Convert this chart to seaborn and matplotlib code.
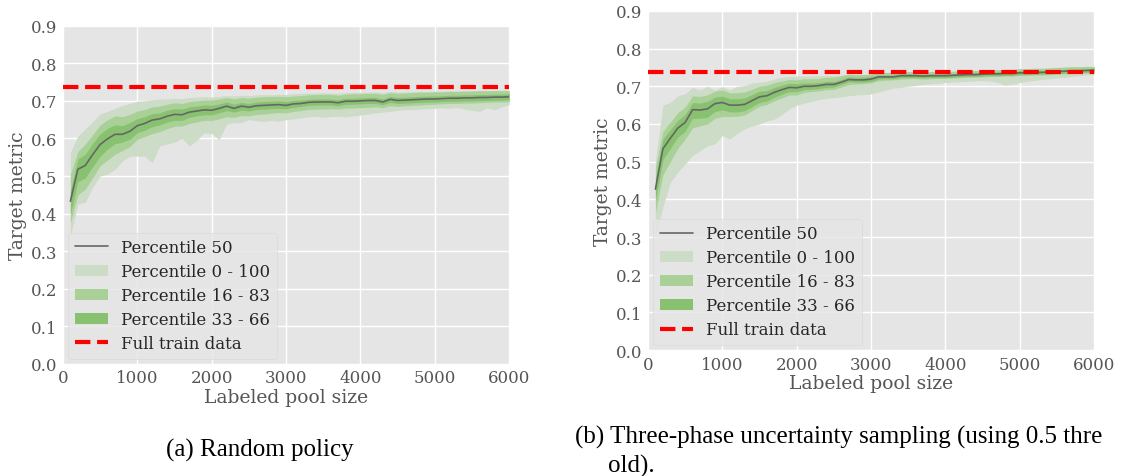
import numpy as np
import pandas as pd
import matplotlib
matplotlib.use("Agg")
import matplotlib.pyplot as plt
import seaborn as sns

# pool sizes (100 .. 6000)
pool = list(range(100, 6100, 100))
full_train = 0.737

# (a) random policy
med_a = [0.433, 0.518, 0.528, 0.557, 0.584, 0.599, 0.611, 0.611, 0.619, 0.634,
         0.640, 0.649, 0.652, 0.659, 0.664, 0.663, 0.670, 0.673, 0.676, 0.675,
         0.680, 0.686, 0.680, 0.686, 0.683, 0.687, 0.688, 0.689, 0.690, 0.688,
         0.692, 0.693, 0.696, 0.697, 0.697, 0.697, 0.695, 0.699, 0.699, 0.700,
         0.701, 0.701, 0.697, 0.704, 0.701, 0.702, 0.703, 0.704, 0.705, 0.705,
         0.706, 0.707, 0.707, 0.708, 0.708, 0.709, 0.709, 0.710, 0.710, 0.711]
lo0_a = [0.340, 0.425, 0.430, 0.470, 0.500, 0.505, 0.518, 0.540, 0.553, 0.553,
         0.553, 0.535, 0.580, 0.585, 0.590, 0.600, 0.580, 0.595, 0.615, 0.613,
         0.597, 0.638, 0.642, 0.642, 0.650, 0.647, 0.645, 0.648, 0.646, 0.650,
         0.652, 0.655, 0.657, 0.659, 0.656, 0.658, 0.659, 0.657, 0.660, 0.662,
         0.665, 0.668, 0.670, 0.672, 0.675, 0.677, 0.676, 0.678, 0.679, 0.680,
         0.681, 0.680, 0.682, 0.678, 0.675, 0.672, 0.682, 0.676, 0.684, 0.690]
hi100_a = [0.563, 0.606, 0.625, 0.645, 0.665, 0.672, 0.680, 0.688, 0.693, 0.699,
           0.700, 0.703, 0.705, 0.705, 0.707, 0.706, 0.709, 0.710, 0.711, 0.710,
           0.712, 0.714, 0.713, 0.715, 0.714, 0.716, 0.717, 0.716, 0.718, 0.717,
           0.719, 0.720, 0.721, 0.721, 0.722, 0.721, 0.720, 0.722, 0.723, 0.723,
           0.723, 0.724, 0.722, 0.725, 0.724, 0.724, 0.725, 0.726, 0.725, 0.726,
           0.726, 0.727, 0.726, 0.727, 0.727, 0.728, 0.727, 0.728, 0.728, 0.728]
lo16_a = [0.375, 0.450, 0.465, 0.495, 0.528, 0.543, 0.558, 0.568, 0.578, 0.598,
          0.605, 0.613, 0.618, 0.626, 0.632, 0.633, 0.640, 0.644, 0.648, 0.648,
          0.652, 0.658, 0.656, 0.661, 0.660, 0.664, 0.665, 0.667, 0.669, 0.668,
          0.672, 0.674, 0.677, 0.678, 0.678, 0.679, 0.678, 0.681, 0.681, 0.682,
          0.683, 0.684, 0.682, 0.687, 0.685, 0.687, 0.688, 0.689, 0.690, 0.691,
          0.692, 0.693, 0.693, 0.694, 0.694, 0.695, 0.696, 0.697, 0.697, 0.698]
hi83_a = [0.505, 0.565, 0.585, 0.610, 0.636, 0.650, 0.660, 0.658, 0.664, 0.673,
          0.677, 0.684, 0.686, 0.691, 0.695, 0.693, 0.698, 0.700, 0.702, 0.702,
          0.705, 0.709, 0.705, 0.709, 0.707, 0.710, 0.711, 0.712, 0.712, 0.711,
          0.713, 0.714, 0.716, 0.717, 0.717, 0.717, 0.715, 0.718, 0.719, 0.719,
          0.720, 0.720, 0.717, 0.722, 0.720, 0.721, 0.722, 0.723, 0.723, 0.724,
          0.724, 0.725, 0.725, 0.726, 0.726, 0.727, 0.727, 0.727, 0.727, 0.727]
lo33_a = [0.398, 0.485, 0.495, 0.525, 0.553, 0.572, 0.586, 0.590, 0.598, 0.615,
          0.622, 0.631, 0.636, 0.643, 0.648, 0.648, 0.656, 0.660, 0.663, 0.663,
          0.668, 0.674, 0.670, 0.675, 0.673, 0.677, 0.678, 0.679, 0.680, 0.679,
          0.683, 0.685, 0.688, 0.689, 0.689, 0.689, 0.687, 0.691, 0.691, 0.692,
          0.693, 0.693, 0.690, 0.696, 0.693, 0.694, 0.695, 0.696, 0.697, 0.697,
          0.698, 0.699, 0.699, 0.700, 0.700, 0.701, 0.701, 0.702, 0.702, 0.703]
hi66_a = [0.462, 0.545, 0.558, 0.587, 0.612, 0.627, 0.636, 0.634, 0.642, 0.653,
          0.658, 0.666, 0.668, 0.675, 0.679, 0.678, 0.684, 0.686, 0.689, 0.688,
          0.692, 0.697, 0.691, 0.696, 0.693, 0.697, 0.698, 0.699, 0.700, 0.698,
          0.701, 0.702, 0.704, 0.705, 0.705, 0.705, 0.703, 0.707, 0.707, 0.708,
          0.709, 0.709, 0.705, 0.712, 0.709, 0.710, 0.711, 0.712, 0.713, 0.713,
          0.714, 0.715, 0.715, 0.716, 0.716, 0.717, 0.717, 0.718, 0.718, 0.719]

# (b) three-phase uncertainty sampling
med_b = [0.427, 0.534, 0.562, 0.589, 0.604, 0.638, 0.637, 0.640, 0.654, 0.657,
         0.650, 0.650, 0.652, 0.662, 0.672, 0.675, 0.684, 0.691, 0.697, 0.696,
         0.700, 0.700, 0.702, 0.705, 0.705, 0.711, 0.718, 0.717, 0.717, 0.719,
         0.725, 0.725, 0.725, 0.728, 0.728, 0.728, 0.727, 0.728, 0.728, 0.728,
         0.729, 0.730, 0.731, 0.731, 0.732, 0.733, 0.733, 0.734, 0.734, 0.736,
         0.736, 0.737, 0.737, 0.738, 0.739, 0.740, 0.741, 0.741, 0.742, 0.743]
lo0_b = [0.300, 0.380, 0.445, 0.472, 0.494, 0.516, 0.529, 0.542, 0.547, 0.569,
         0.560, 0.575, 0.587, 0.595, 0.600, 0.608, 0.613, 0.625, 0.640, 0.650,
         0.655, 0.660, 0.665, 0.668, 0.670, 0.672, 0.675, 0.677, 0.678, 0.680,
         0.685, 0.690, 0.695, 0.697, 0.700, 0.702, 0.705, 0.707, 0.708, 0.710,
         0.711, 0.712, 0.713, 0.714, 0.715, 0.714, 0.710, 0.703, 0.706, 0.710,
         0.713, 0.716, 0.718, 0.720, 0.722, 0.724, 0.726, 0.728, 0.730, 0.732]
hi100_b = [0.500, 0.650, 0.657, 0.675, 0.680, 0.697, 0.690, 0.700, 0.690, 0.699,
           0.690, 0.700, 0.702, 0.709, 0.711, 0.714, 0.720, 0.724, 0.726, 0.727,
           0.727, 0.728, 0.728, 0.729, 0.729, 0.730, 0.731, 0.731, 0.731, 0.732,
           0.734, 0.734, 0.735, 0.735, 0.736, 0.736, 0.736, 0.737, 0.737, 0.737,
           0.738, 0.738, 0.739, 0.739, 0.740, 0.740, 0.741, 0.742, 0.742, 0.743,
           0.744, 0.745, 0.746, 0.747, 0.748, 0.749, 0.750, 0.751, 0.751, 0.750]
lo16_b = [0.365, 0.465, 0.500, 0.535, 0.560, 0.590, 0.595, 0.600, 0.615, 0.620,
          0.620, 0.620, 0.624, 0.636, 0.647, 0.652, 0.662, 0.669, 0.677, 0.677,
          0.684, 0.686, 0.688, 0.691, 0.692, 0.698, 0.705, 0.706, 0.707, 0.709,
          0.715, 0.716, 0.717, 0.719, 0.720, 0.720, 0.719, 0.720, 0.721, 0.721,
          0.722, 0.723, 0.724, 0.724, 0.725, 0.726, 0.726, 0.727, 0.727, 0.729,
          0.729, 0.730, 0.730, 0.731, 0.732, 0.733, 0.734, 0.734, 0.735, 0.736]
hi83_b = [0.485, 0.580, 0.605, 0.630, 0.645, 0.675, 0.673, 0.677, 0.687, 0.690,
          0.683, 0.683, 0.685, 0.692, 0.700, 0.703, 0.710, 0.714, 0.718, 0.717,
          0.720, 0.720, 0.721, 0.724, 0.724, 0.728, 0.732, 0.731, 0.731, 0.733,
          0.737, 0.737, 0.737, 0.739, 0.739, 0.739, 0.738, 0.739, 0.739, 0.739,
          0.740, 0.741, 0.742, 0.742, 0.743, 0.744, 0.744, 0.745, 0.745, 0.747,
          0.747, 0.748, 0.748, 0.749, 0.750, 0.751, 0.752, 0.752, 0.753, 0.753]
lo33_b = [0.395, 0.505, 0.535, 0.565, 0.580, 0.615, 0.615, 0.618, 0.633, 0.637,
          0.632, 0.632, 0.635, 0.646, 0.657, 0.661, 0.671, 0.679, 0.686, 0.686,
          0.691, 0.692, 0.694, 0.697, 0.698, 0.705, 0.712, 0.711, 0.711, 0.713,
          0.719, 0.720, 0.720, 0.723, 0.723, 0.723, 0.722, 0.723, 0.723, 0.723,
          0.724, 0.725, 0.726, 0.726, 0.727, 0.728, 0.728, 0.729, 0.729, 0.731,
          0.731, 0.732, 0.732, 0.733, 0.734, 0.735, 0.736, 0.736, 0.737, 0.738]
hi66_b = [0.455, 0.560, 0.585, 0.610, 0.625, 0.657, 0.655, 0.660, 0.671, 0.674,
          0.667, 0.667, 0.669, 0.678, 0.687, 0.689, 0.697, 0.703, 0.708, 0.707,
          0.709, 0.709, 0.710, 0.713, 0.713, 0.718, 0.725, 0.724, 0.724, 0.726,
          0.730, 0.730, 0.730, 0.733, 0.733, 0.733, 0.732, 0.733, 0.733, 0.733,
          0.734, 0.735, 0.736, 0.736, 0.737, 0.738, 0.738, 0.739, 0.739, 0.741,
          0.741, 0.742, 0.742, 0.743, 0.744, 0.745, 0.746, 0.746, 0.747, 0.748]

plt.style.use("ggplot")
sns.set_style("darkgrid", {"axes.facecolor": "#E5E5E5", "grid.color": "white",
                           "axes.edgecolor": "white"})
plt.rcParams["font.family"] = ["DejaVu Serif"]

c_light = "#cddcc6"
c_mid = "#a9d197"
c_dark = "#88c270"


def draw(ax, med, lo0, hi100, lo16, hi83, lo33, hi66):
    df = pd.DataFrame({"pool": pool, "med": med})
    p0 = ax.fill_between(pool, lo0, hi100, color=c_light, lw=0)
    p16 = ax.fill_between(pool, lo16, hi83, color=c_mid, lw=0)
    p33 = ax.fill_between(pool, lo33, hi66, color=c_dark, lw=0)
    sns.lineplot(data=df, x="pool", y="med", ax=ax, color="#666666", lw=1.2)
    ref = ax.axhline(full_train, color="red", ls="--", lw=3)
    ax.set_xlim(0, 6000)
    ax.set_ylim(0, 0.9)
    ax.set_xticks(range(0, 7000, 1000))
    ax.set_yticks(np.arange(0, 0.95, 0.1))
    ax.set_yticklabels([f"{v:.1f}" for v in np.arange(0, 0.95, 0.1)])
    ax.tick_params(labelsize=12, colors="#555555", length=3, pad=1)
    ax.grid(True, color="white", lw=1)
    for s in ax.spines.values():
        s.set_visible(False)
    ax.set_xlabel("Labeled pool size", fontsize=13.5, color="#555555", labelpad=1)
    ax.set_ylabel("Target metric", fontsize=13.5, color="#555555", labelpad=3)
    line = ax.get_lines()[0]
    ax.legend([line, p0, p16, p33, ref],
              ["Percentile 50", "Percentile 0 - 100", "Percentile 16 - 83",
               "Percentile 33 - 66", "Full train data"],
              loc="lower left", fontsize=12, facecolor="#E5E5E5", framealpha=0.8,
              edgecolor="#d8d8d8", borderaxespad=0.3, labelspacing=0.42)


fig = plt.figure(figsize=(11.24, 4.77), dpi=100)
fig.patch.set_facecolor("white")
ax1 = fig.add_axes([0.056, 0.235, 0.397, 0.709])
ax2 = fig.add_axes([0.5765, 0.264, 0.397, 0.711])

draw(ax1, med_a, lo0_a, hi100_a, lo16_a, hi83_a, lo33_a, hi66_a)
draw(ax2, med_b, lo0_b, hi100_b, lo16_b, hi83_b, lo33_b, hi66_b)

cap = dict(fontsize=18, family="Liberation Serif", color="black")
fig.text(0.231, 0.056, "(a) Random policy", ha="center", va="center", **cap)
fig.text(0.512, 0.082, "(b) Three-phase uncertainty sampling (using 0.5 thre",
         ha="left", va="center", **cap)
fig.text(0.541, 0.022, "old).", ha="left", va="center", **cap)

fig.savefig("out.png", dpi=100, facecolor="white")
